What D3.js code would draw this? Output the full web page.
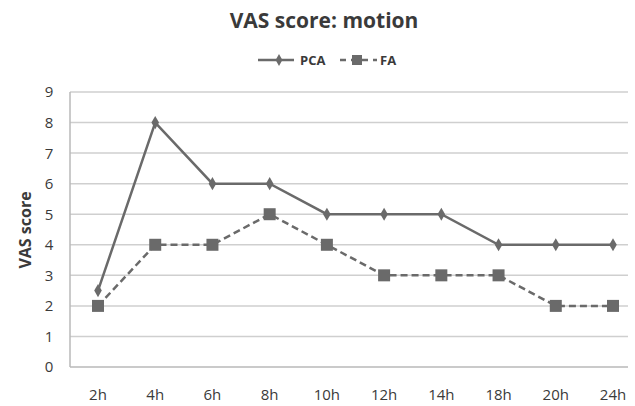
<!DOCTYPE html>
<html>
<head>
<meta charset="utf-8">
<script src="https://cdn.jsdelivr.net/npm/d3@7"></script>
<style>
  body { margin: 0; background: #fff; }
  text { font-family: "Open Sans", "Liberation Sans", sans-serif; fill: #3a3a3a; }
</style>
</head>
<body>
<svg id="chart" width="635" height="406"></svg>
<script>
var hours = ['2h', '4h', '6h', '8h', '10h', '12h', '14h', '18h', '20h', '24h'];
var pca = [2.5, 8, 6, 6, 5, 5, 5, 4, 4, 4];
var fa = [2, 4, 4, 5, 4, 3, 3, 3, 2, 2];
var yTicks = [0, 1, 2, 3, 4, 5, 6, 7, 8, 9];

var svg = d3.select('#chart'),
  plotLeft = 70, plotRight = 628, plotTop = 92, plotBottom = 367;

var x = d3.scalePoint()
  .domain(hours)
  .range([98, 613]);

var y = d3.scaleLinear()
  .domain([0, 9])
  .range([plotBottom, plotTop]);

var lineColor = '#6a6a6a';

// gridlines
svg.append('g')
  .selectAll('line')
  .data(yTicks)
  .enter().append('line')
  .attr('x1', plotLeft).attr('x2', plotRight)
  .attr('y1', function(d) { return y(d); })
  .attr('y2', function(d) { return y(d); })
  .attr('stroke', function(d) { return d === 0 ? '#b8b8b8' : '#cfcfcf'; })
  .attr('stroke-width', 1.5);

// left axis line
svg.append('line')
  .attr('x1', plotLeft).attr('x2', plotLeft)
  .attr('y1', plotTop).attr('y2', plotBottom)
  .attr('stroke', '#b8b8b8').attr('stroke-width', 1.5);

// y labels
svg.append('g')
  .selectAll('text')
  .data(yTicks)
  .enter().append('text')
  .attr('x', 49)
  .attr('y', function(d) { return y(d); })
  .attr('dy', '0.36em')
  .attr('text-anchor', 'middle')
  .style('font-size', '15px')
  .text(function(d) { return d; });

// x labels
svg.append('g')
  .selectAll('text')
  .data(hours)
  .enter().append('text')
  .attr('x', function(d) { return x(d); })
  .attr('y', 400)
  .attr('text-anchor', 'middle')
  .style('font-size', '15px')
  .text(function(d) { return d; });

// title
svg.append('text')
  .attr('x', 324).attr('y', 28)
  .attr('text-anchor', 'middle')
  .style('font-size', '21px').style('font-weight', 'bold')
  .text('VAS score: motion');

// y title
svg.append('text')
  .attr('transform', 'translate(31,230) rotate(-90)')
  .attr('text-anchor', 'middle')
  .style('font-size', '16px').style('font-weight', 'bold')
  .text('VAS score');

var line = d3.line()
  .x(function(d, i) { return x(hours[i]); })
  .y(function(d) { return y(d); });

svg.append('path')
  .datum(pca)
  .attr('d', line)
  .attr('fill', 'none')
  .attr('stroke', lineColor)
  .attr('stroke-width', 2.5);

svg.append('path')
  .datum(fa)
  .attr('d', line)
  .attr('fill', 'none')
  .attr('stroke', lineColor)
  .attr('stroke-width', 2.5)
  .attr('stroke-dasharray', '7,4');

var diamond = d3.symbol().type(d3.symbolDiamond).size(50);

svg.append('g')
  .selectAll('path')
  .data(pca)
  .enter().append('path')
  .attr('d', diamond)
  .attr('transform', function(d, i) { return 'translate(' + x(hours[i]) + ',' + y(d) + ')'; })
  .attr('fill', lineColor);

svg.append('g')
  .selectAll('rect')
  .data(fa)
  .enter().append('rect')
  .attr('x', function(d, i) { return x(hours[i]) - 6; })
  .attr('y', function(d) { return y(d) - 6; })
  .attr('width', 12).attr('height', 12)
  .attr('fill', lineColor);

// legend
var leg = svg.append('g');
leg.append('line')
  .attr('x1', 258).attr('x2', 294).attr('y1', 60).attr('y2', 60)
  .attr('stroke', lineColor).attr('stroke-width', 2.5);
leg.append('path')
  .attr('d', d3.symbol().type(d3.symbolDiamond).size(40))
  .attr('transform', 'translate(279,60)')
  .attr('fill', lineColor);
leg.append('text')
  .attr('x', 300).attr('y', 60).attr('dy', '0.36em')
  .style('font-size', '13px').style('font-weight', 'bold')
  .text('PCA');
leg.append('line')
  .attr('x1', 340).attr('x2', 377).attr('y1', 60).attr('y2', 60)
  .attr('stroke', lineColor).attr('stroke-width', 2.5)
  .attr('stroke-dasharray', '6,5');
leg.append('rect')
  .attr('x', 352).attr('y', 55).attr('width', 10).attr('height', 10)
  .attr('fill', lineColor);
leg.append('text')
  .attr('x', 380).attr('y', 60).attr('dy', '0.36em')
  .style('font-size', '13px').style('font-weight', 'bold')
  .text('FA');
</script>
</body>
</html>
